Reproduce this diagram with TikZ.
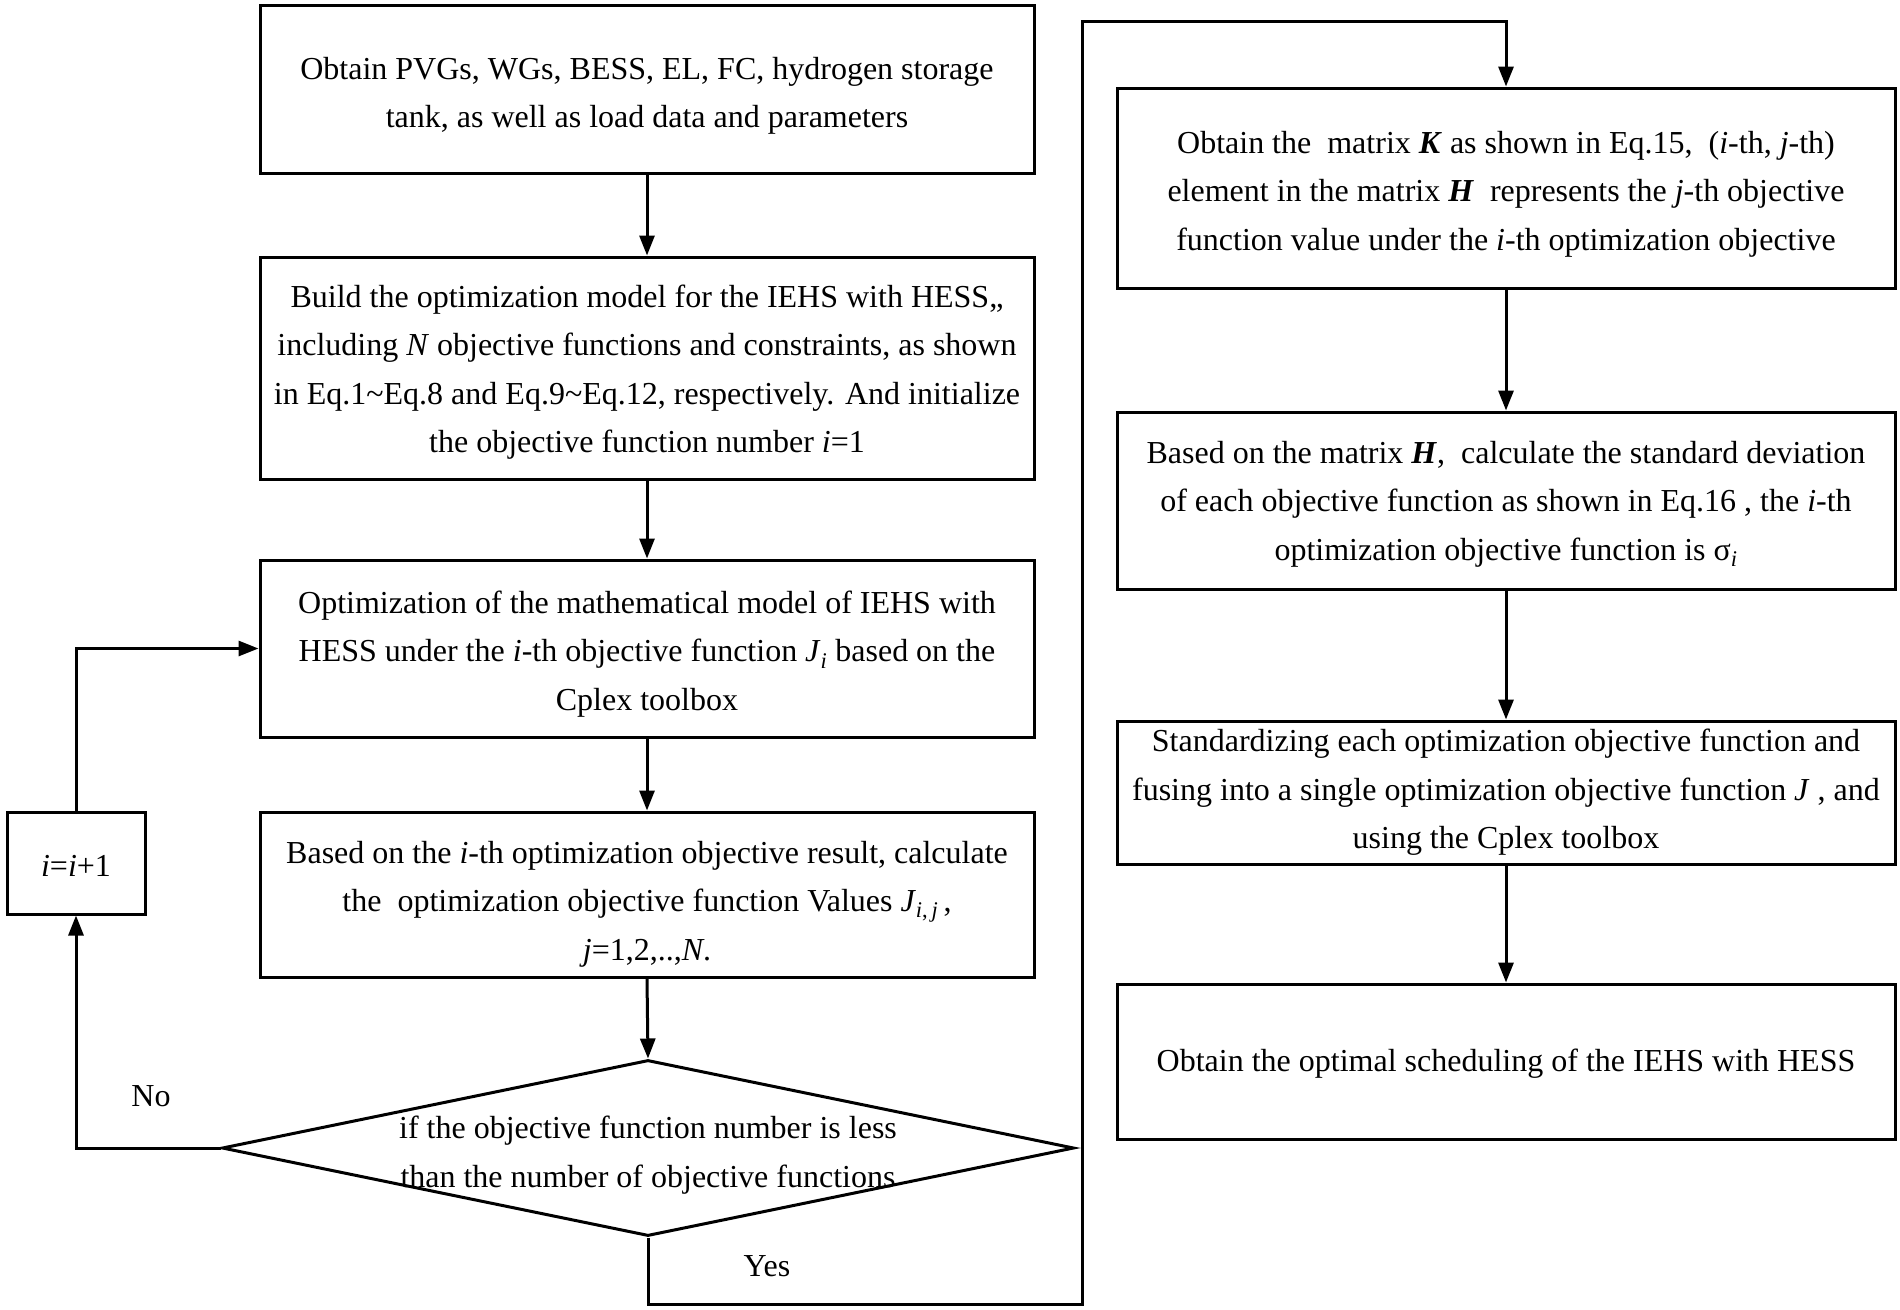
\documentclass[tikz,border=0pt]{standalone}
\usepackage{fontspec}
\setmainfont{Liberation Serif}
\usetikzlibrary{arrows.meta,shapes.geometric}
\newcommand{\iv}{\textit{i}}
\newcommand{\jv}{\textit{j}}
\begin{document}
\begin{tikzpicture}[x=1pt,y=-1pt,
  txt/.style={align=center, inner sep=0pt, font=\fontsize{32}{48.5}\selectfont},
  box/.style={draw, line width=3pt, inner sep=0pt},
  arr/.style={line width=3pt, -{Triangle[length=20pt,width=15pt]}},
  ln/.style={line width=3pt}]
\useasboundingbox (0,0) rectangle (1900,1309);
% left column boxes
\node[box, minimum width=774pt, minimum height=168pt] (b1) at (647,89) {};
\node[box, minimum width=774pt, minimum height=222pt] (b2) at (647,368) {};
\node[box, minimum width=774pt, minimum height=177pt] (b3) at (647,648.5) {};
\node[box, minimum width=774pt, minimum height=165pt] (b4) at (647,894.5) {};
\node[draw, diamond, line width=3pt, inner sep=0pt, minimum width=852pt, minimum height=176pt] (d) at (648,1148) {};
\node[box, minimum width=138pt, minimum height=102pt] (inc) at (76,863) {};
% right column boxes
\node[box, minimum width=778pt, minimum height=200pt] (r1) at (1506,188) {};
\node[box, minimum width=778pt, minimum height=177pt] (r2) at (1506,500.5) {};
\node[box, minimum width=778pt, minimum height=143pt] (r3) at (1506,792.5) {};
\node[box, minimum width=778pt, minimum height=155pt] (r4) at (1506,1061.5) {};
% texts
\node[txt] (t1) at (647,96)
  {Obtain PVGs, WGs, BESS, EL, FC, hydrogen storage\\tank, as well as load data and parameters};
\node[txt] (t2) at (647,372)
  {Build the optimization model for the IEHS with HESS,,\\including \textit{N} objective functions and constraints, as shown\\in Eq.1\textasciitilde Eq.8 and Eq.9\textasciitilde Eq.12, respectively. And initialize\\the objective function number \iv=1};
\node[txt] (t3) at (647,654)
  {Optimization of the mathematical model of IEHS with\\HESS under the \iv-th objective function \textit{J}\textsubscript{\iv} based on the\\Cplex toolbox};
\node[txt] (t4) at (647,904)
  {Based on the \iv-th optimization objective result, calculate\\the\ \ optimization objective function Values \textit{J}\textsubscript{\iv,\,\jv}\,,\\\jv=1,2,..,\textit{N}.};
\node[txt] (dt) at (648,1155) {if the objective function number is less\\than the number of objective functions};
\node[txt] (ti) at (76,866) {\iv=\iv+1};
\node[txt] (u1) at (1506,194)
  {Obtain the\ \ matrix \textbf{\textit{K}} as shown in Eq.15,\ \ (\iv-th, \jv-th)\\element in the matrix \textbf{\textit{H}}\ \ represents the \jv-th objective\\function value under the \iv-th optimization objective};
\node[txt] (u2) at (1506,504)
  {Based on the matrix \textbf{\textit{H}},\ \ calculate the standard deviation\\of each objective function as shown in Eq.16 , the \iv-th\\optimization objective function is σ\textsubscript{\iv}};
\node[txt] (u3) at (1506,792.5)
  {Standardizing each optimization objective function and\\fusing into a single optimization objective function \textit{J} , and\\using the Cplex toolbox};
\node[txt] (u4) at (1506,1064)
  {Obtain the optimal scheduling of the IEHS with HESS};
% connectors
\draw[arr] (b1.south) -- (b2.north);
\draw[arr] (b2.south) -- (b3.north);
\draw[arr] (b3.south) -- (b4.north);
\draw[arr] (b4.south) -- (d.north);
\draw[arr] (d.west) -| (inc.south);
\draw[arr] (inc.north) |- (b3.west);
\coordinate (c1) at (1082,1304);
\coordinate (c2) at (1082,21);
\draw[arr] (d.south) |- (c1) -- (c2) -| (r1.north);
\draw[arr] (r1.south) -- (r2.north);
\draw[arr] (r2.south) -- (r3.north);
\draw[arr] (r3.south) -- (r4.north);
% labels
\node[txt] (no) at (151,1096) {No};
\node[txt] (yes) at (767,1266) {Yes};
\end{tikzpicture}
\end{document}
